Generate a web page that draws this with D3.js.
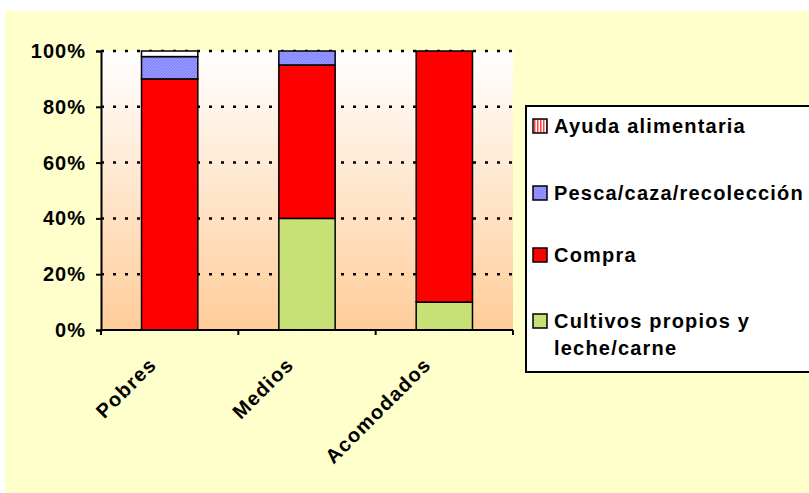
<!DOCTYPE html>
<html lang="es">
<head>
<meta charset="UTF-8">
<title>Fuentes de alimentos</title>
<script src="https://d3js.org/d3.v7.min.js"></script>
<style>
  body { margin: 0; background: #fff; }
  svg { display: block; font-family: "Liberation Sans", Arial, sans-serif; }
</style>
</head>
<body>
<svg id="chart" width="809" height="493"></svg>
<script>
// data (percent of total)
const categories = ["Pobres", "Medios", "Acomodados"];
const seriesNames = ["Cultivos propios y leche/carne", "Compra", "Pesca/caza/recolección", "Ayuda alimentaria"];
const cultivos = [0, 40, 10];
const compra = [90, 55, 90];
const pesca = [8, 5, 0];
const ayuda = [2, 0, 0];
const yTicks = [0, 20, 40, 60, 80, 100];

const svg = d3.select('#chart');
const W = 809, H = 493;
const plot = { left: 101, right: 513, top: 51, bottom: 330 };

// defs: background gradient and fill patterns
const defs = svg.append('defs');
const grad = defs.append('linearGradient').attr('id', 'bg').attr('x1', 0).attr('y1', 0).attr('x2', 0).attr('y2', 1);
grad.append('stop').attr('offset', '0%').attr('stop-color', '#ffffff');
grad.append('stop').attr('offset', '100%').attr('stop-color', '#ffcc99');

const pBlue = defs.append('pattern').attr('id', 'pBlue').attr('width', 3).attr('height', 3)
  .attr('patternUnits', 'userSpaceOnUse');
pBlue.append('rect').attr('width', 3).attr('height', 3).attr('fill', '#8585ff');
pBlue.append('path').attr('d', 'M0,3 L3,0').attr('stroke', '#a8a8ff').attr('stroke-width', 0.8);

const pGreen = defs.append('pattern').attr('id', 'pGreen').attr('width', 3).attr('height', 3)
  .attr('patternUnits', 'userSpaceOnUse');
pGreen.append('rect').attr('width', 3).attr('height', 3).attr('fill', '#cce57a');
pGreen.append('path').attr('d', 'M0,3 L3,0').attr('stroke', '#bcd86a').attr('stroke-width', 0.8);

const pRed = defs.append('pattern').attr('id', 'pRed').attr('width', 3).attr('height', 3)
  .attr('patternUnits', 'userSpaceOnUse');
pRed.append('rect').attr('width', 3).attr('height', 3).attr('fill', '#ffffff');
pRed.append('rect').attr('width', 1.5).attr('height', 3).attr('fill', '#ff4040');

const fills = ['url(#pGreen)', '#ff0000', 'url(#pBlue)', '#ffffff'];
const legendFills = ['url(#pGreen)', '#ff0000', 'url(#pBlue)', 'url(#pRed)'];

// chart area background
svg.append('rect').attr('x', 5).attr('y', 11).attr('width', W - 5).attr('height', H - 11)
  .attr('fill', '#ffffcc');

svg.append('rect').attr('x', plot.left).attr('y', plot.top)
  .attr('width', plot.right - plot.left).attr('height', plot.bottom - plot.top)
  .attr('fill', 'url(#bg)');

// scales
const x = d3.scaleBand().domain(categories).range([plot.left, plot.right]).paddingInner(0.59).paddingOuter(0.295);
const xOuter = d3.scaleBand().domain(categories).range([plot.left, plot.right]);
const y = d3.scaleLinear().domain([0, 100]).range([plot.bottom, plot.top]);

// gridlines
svg.append('g').selectAll('line').data(yTicks.filter(d => d > 0)).enter().append('line')
  .attr('x1', plot.left).attr('x2', plot.right)
  .attr('y1', d => y(d)).attr('y2', d => y(d))
  .attr('stroke', '#000').attr('stroke-width', 2.5).attr('stroke-dasharray', '3 9');

// stacked bars
const table = categories.map((c, i) => ({ cat: c, s0: cultivos[i], s1: compra[i], s2: pesca[i], s3: ayuda[i] }));
const stacked = d3.stack().keys(['s0', 's1', 's2', 's3'])(table);

stacked.forEach((layer, k) => {
  svg.append('g').selectAll('rect').data(layer.filter(d => d[1] - d[0] > 0)).enter().append('rect')
    .attr('x', d => x(d.data.cat))
    .attr('width', x.bandwidth())
    .attr('y', d => y(d[1]))
    .attr('height', d => y(d[0]) - y(d[1]))
    .attr('fill', fills[k])
    .attr('stroke', '#000').attr('stroke-width', 1.5);
});

// y axis
const yAxis = svg.append('g').attr('transform', `translate(${plot.left},0)`)
  .call(d3.axisLeft(y).tickValues(yTicks).tickFormat(d => d + '%').tickSize(5).tickPadding(10));
yAxis.select('.domain').attr('stroke', '#000').attr('stroke-width', 2);
yAxis.selectAll('.tick line').attr('stroke', '#000').attr('stroke-width', 2);
yAxis.selectAll('text').attr('font-size', '20px').attr('font-weight', 'bold').attr('letter-spacing', '1px')
  .attr('font-family', '"Liberation Sans", Arial, sans-serif').attr('fill', '#000');

// x axis
const xAxisG = svg.append('g').attr('transform', `translate(0,${plot.bottom})`);
xAxisG.append('line').attr('x1', plot.left).attr('x2', plot.right).attr('stroke', '#000').attr('stroke-width', 2);
const bounds = categories.map(c => xOuter(c)).concat([plot.right]);
xAxisG.selectAll('.tk').data(bounds).enter().append('line')
  .attr('x1', d => d).attr('x2', d => d).attr('y1', 0).attr('y2', 5)
  .attr('stroke', '#000').attr('stroke-width', 2);
xAxisG.selectAll('text').data(categories).enter().append('text')
  .attr('transform', d => `translate(${x(d) + x.bandwidth() / 2 - 12},${36}) rotate(-45)`)
  .attr('text-anchor', 'end')
  .attr('font-size', '20px').attr('font-weight', 'bold').attr('letter-spacing', '1.3px').attr('fill', '#000')
  .text(d => d);

// legend
const legend = svg.append('g');
legend.append('rect').attr('x', 526).attr('y', 106).attr('width', 300).attr('height', 266)
  .attr('fill', '#fff').attr('stroke', '#000').attr('stroke-width', 2);

const legendRows = [
  { k: 3, y: 133, lines: [seriesNames[3]] },
  { k: 2, y: 200, lines: [seriesNames[2]] },
  { k: 1, y: 262, lines: [seriesNames[1]] },
  { k: 0, y: 328, lines: ['Cultivos propios y', 'leche/carne'] }
];
legendRows.forEach(r => {
  legend.append('rect').attr('x', 533).attr('y', r.y - 14).attr('width', 14).attr('height', 14)
    .attr('fill', legendFills[r.k]).attr('stroke', '#000').attr('stroke-width', 1.5);
  r.lines.forEach((t, j) => {
    legend.append('text').attr('x', 554).attr('y', r.y + j * 27)
      .attr('font-size', '20px').attr('font-weight', 'bold').attr('letter-spacing', '1.2px')
      .attr('fill', '#000').text(t);
  });
});
</script>
</body>
</html>
